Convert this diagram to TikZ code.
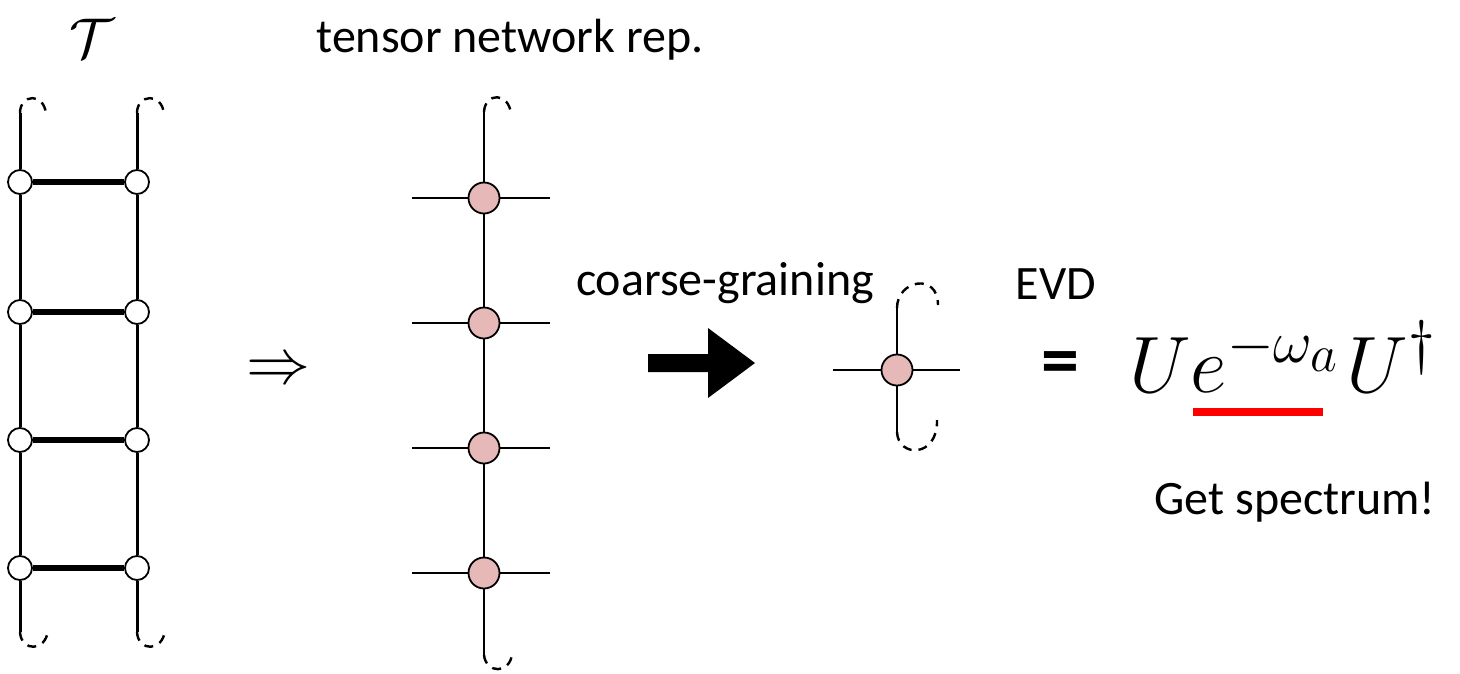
\documentclass[tikz,border=0pt]{standalone}
\usepackage{fix-cm}
\usepackage{fontspec}
\setmainfont{Carlito}
\DeclareMathSizes{80}{80}{60}{52}
\definecolor{pinkfill}{HTML}{E6B8B7}
\definecolor{redline}{HTML}{FF0000}
\begin{document}
\begin{tikzpicture}[x=1pt,y=-1pt,
  rail/.style={line width=3pt},
  rung/.style={line width=5.2pt},
  leg/.style={line width=2.3pt},
  dashcap/.style={line width=2.4pt, dash pattern=on 9pt off 7pt},
  wnode/.style={circle, draw, fill=white, line width=1.8pt, minimum size=24pt, inner sep=0pt},
  pnode/.style={circle, draw, fill=pinkfill, line width=1.8pt, minimum size=31pt, inner sep=0pt},
  txt/.style={font=\fontsize{48}{56}\selectfont, inner sep=0pt}]
\useasboundingbox (0,0) rectangle (1460,673);

% ---- titles ----
\node[font=\fontsize{56}{64}\selectfont, inner sep=0pt] (T) at (92,38) {$\mathcal{T}$};
\node[txt] (tn) at (510,40) {tensor network rep.};

% ---- ladder ----
\foreach \i/\y in {1/182,2/312,3/440,4/568}{
  \node[wnode] (l\i) at (20,\y) {};
  \node[wnode] (r\i) at (137,\y) {};
  \draw[rung] (l\i) -- (r\i);
}
\coordinate (lt) at (20,113);
\coordinate (lb) at (20,632);
\coordinate (rt) at (137,113);
\coordinate (rb) at (137,632);
\draw[rail] (lt) -- (l1) (l1) -- (l2) (l2) -- (l3) (l3) -- (l4) (l4) -- (lb);
\draw[rail] (rt) -- (r1) (r1) -- (r2) (r2) -- (r3) (r3) -- (r4) (r4) -- (rb);
\draw[dashcap] (lt) .. controls (20,94) and (44,92) .. (46,114);
\draw[dashcap] (rt) .. controls (137,94) and (162,92) .. (164,114);
\draw[dashcap] (lb) .. controls (21,652) and (46,652) .. (48,630);
\draw[dashcap] (rb) .. controls (138,652) and (163,652) .. (165,630);

% ---- implication ----
\node[font=\fontsize{64}{70}\selectfont, inner sep=0pt] (imp) at (278,372) {$\Rightarrow$};

% ---- tensor chain ----
\foreach \i/\y in {1/198,2/323,3/448,4/573}{
  \node[pnode] (c\i) at (484,\y) {};
  \coordinate (cw\i) at (412,\y);
  \coordinate (ce\i) at (550,\y);
  \draw[leg] (cw\i) -- (c\i) (c\i) -- (ce\i);
}
\coordinate (ct) at (484,112);
\coordinate (cb) at (484,655);
\draw[leg] (ct) -- (c1) (c1) -- (c2) (c2) -- (c3) (c3) -- (c4) (c4) -- (cb);
\draw[dashcap] (ct) .. controls (485,92) and (509,92) .. (511,114);
\draw[dashcap] (cb) .. controls (486,674) and (510,674) .. (512,654);

% ---- coarse-graining ----
\node[txt] (cg) at (725,283) {coarse-graining};
\coordinate (ar) at (648,363);
\fill (ar) ++(0,-9) -- ++(60,0) -- ++(0,-26) -- ++(47,35) -- ++(-47,35) -- ++(0,-26) -- ++(-60,0) -- cycle;

% ---- single tensor ----
\node[pnode] (s) at (897,370) {};
\coordinate (sw) at (833,370);
\coordinate (se) at (960,370);
\coordinate (sn) at (897,308);
\coordinate (ss) at (897,432);
\draw[leg] (sw) -- (s) (s) -- (se) (sn) -- (s) (s) -- (ss);
\draw[dashcap] (sn) .. controls (897,280) and (938,272) .. (938,305);
\draw[dashcap] (ss) .. controls (898,458) and (938,458) .. (937,420);

% ---- EVD ----
\node[txt] (evd) at (1056,284) {EVD};
\node[font=\bfseries\fontsize{76}{80}\selectfont, inner sep=0pt] (eq) at (1060,369) {=};
\node[font=\fontsize{80}{88}\selectfont, inner sep=0pt, anchor=base west] (f) at (1129,392)
  {$Ue^{-\omega_a}\mkern2mu U^{\dagger}$};
\coordinate (u1) at (1193,412);
\coordinate (u2) at (1323,412);
\draw[redline, line width=8pt] (u1) -- (u2);
\node[txt] (gs) at (1295,502) {Get spectrum!};
\end{tikzpicture}
\end{document}
